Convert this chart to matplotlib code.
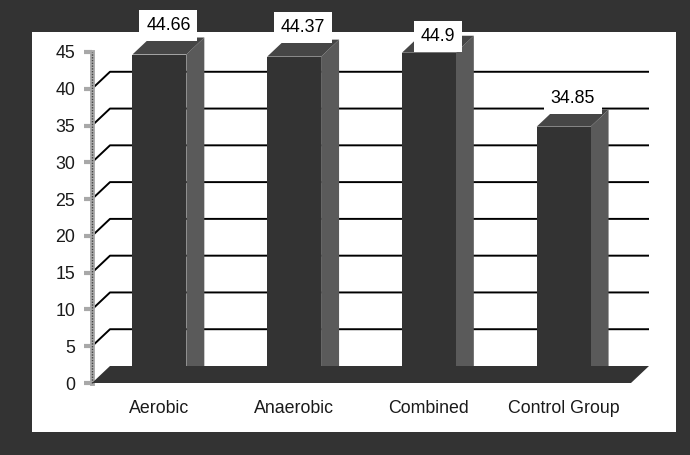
import matplotlib
matplotlib.use("Agg")
import matplotlib.pyplot as plt
from matplotlib.patches import Polygon, Rectangle
import numpy as np

groups = ["Aerobic", "Anaerobic", "Combined", "Control Group"]
scores = [44.66, 44.37, 44.9, 34.85]
y_ticks = [0, 5, 10, 15, 20, 25, 30, 35, 40, 45]

# how far (px) each value label sits above its bar top
label_rise_px = [29, 29, 16, 28]

plt.rcParams["font.family"] = ["Liberation Sans", "DejaVu Sans"]
FS = 12.8

W, H = 690, 455
fig = plt.figure(figsize=(W / 100, H / 100), dpi=100, facecolor="#333333")

# white chart panel inside the dark frame
fig.add_artist(Rectangle((32 / W, 23 / H), 644 / W, 400 / H,
                         transform=fig.transFigure, fc="white", ec="none",
                         zorder=-5))

ax = fig.add_axes([92 / W, 72 / H, 539 / W, 331 / H], zorder=0)
ax.set_xlim(-0.5, len(groups) - 0.5)
ax.set_ylim(0, 45)
ax.patch.set_visible(False)

# depth of the 3-D extrusion, converted from pixels to data units
p0 = ax.transData.transform((0, 0))
dd = ax.transData.inverted().transform(p0 + np.array([18, 17]))
ddx, ddy = dd[0], dd[1]

x0, x1 = -0.5, len(groups) - 0.5
front_c, side_c, top_c = "#333333", "#5a5a5a", "#464646"

# back-wall gridlines with their diagonal run along the side wall
for v in y_ticks[1:-1]:
    ax.plot([x0, x0 + ddx, x1 + ddx], [v, v + ddy, v + ddy],
            color="black", lw=1.4, zorder=1, clip_on=False,
            solid_capstyle="butt")

bw = 0.4
for i, v in enumerate(scores):
    l, r = i - bw / 2, i + bw / 2
    ax.add_patch(Polygon([(r, 0), (r + ddx, ddy), (r + ddx, v + ddy), (r, v)],
                         closed=True, fc=side_c, ec="none", zorder=3,
                         clip_on=False))
    ax.add_patch(Polygon([(l, v), (l + ddx, v + ddy), (r + ddx, v + ddy), (r, v)],
                         closed=True, fc=top_c, ec="none", zorder=3,
                         clip_on=False))

# floor
ax.add_patch(Polygon([(x0, 0), (x0 + ddx, ddy), (x1 + ddx, ddy), (x1, 0)],
                     closed=True, fc=front_c, ec="none", zorder=4,
                     clip_on=False))

for i, v in enumerate(scores):
    l = i - bw / 2
    ax.add_patch(Rectangle((l, 0), bw, v, fc=front_c, ec="none", zorder=5,
                           clip_on=False))
    ax.annotate(f"{v:g}", xy=(i + ddx / 2, v),
                xytext=(0, label_rise_px[i] * 0.72), textcoords="offset points",
                ha="center", va="center", fontsize=FS, color="black",
                bbox=dict(boxstyle="square,pad=0.38", fc="white", ec="none"),
                zorder=8, annotation_clip=False)

# axes styling
for side in ["top", "right", "bottom"]:
    ax.spines[side].set_visible(False)
ax.spines["left"].set_color("#a8a8a8")
ax.spines["left"].set_linewidth(3.5)
ax.spines["left"].set_zorder(2)
ax.plot([x0, x0], [0, 45], color="#444444", lw=1, ls=(0, (1, 1)),
        zorder=2.5, clip_on=False)

ax.set_yticks(y_ticks)
ax.set_yticklabels([str(t) for t in y_ticks])
ax.tick_params(axis="y", length=6, width=3, color="#a8a8a8", pad=6,
               labelsize=FS, labelcolor="#1a1a1a")
ax.set_xticks(range(len(groups)))
ax.set_xticklabels(groups)
ax.tick_params(axis="x", length=0, pad=12, labelsize=FS, labelcolor="#1a1a1a")

fig.savefig("out.png", dpi=100, facecolor=fig.get_facecolor())
